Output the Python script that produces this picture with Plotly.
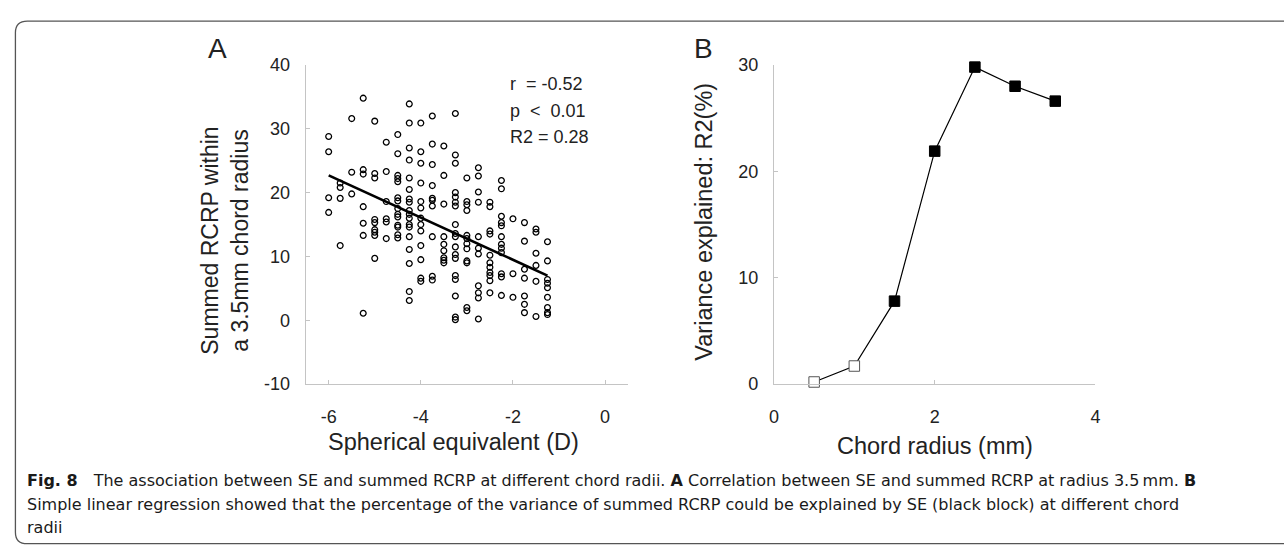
import plotly.graph_objects as go

W, H = 1284, 559

# ---------------- Data ----------------
# Panel A: spherical equivalent levels (D) and summed RCRP values at each level
se_levels = [-6.0, -5.75, -5.5, -5.25, -5.0, -4.75, -4.5, -4.25, -4.0, -3.75,
             -3.5, -3.25, -3.0, -2.75, -2.5, -2.25, -2.0, -1.75, -1.5, -1.25]
rcrp_by_level = [
    [28.8, 26.4, 19.2, 16.9],
    [21.5, 20.8, 19.1, 11.7],
    [31.6, 23.2, 19.8],
    [34.8, 23.6, 22.9, 17.8, 15.2, 13.3, 1.1],
    [31.2, 23.0, 22.3, 15.8, 15.3, 14.2, 13.8, 13.3, 9.7],
    [27.9, 23.3, 18.6, 15.9, 15.4, 12.8],
    [29.1, 26.1, 22.7, 22.2, 21.7, 19.2, 18.7, 17.5, 16.6, 16.2, 14.9, 14.6, 13.4, 12.9],
    [33.9, 30.9, 27.0, 25.1, 22.3, 20.5, 19.0, 18.5, 17.2, 16.6, 16.0, 15.0, 14.6, 13.1, 11.1, 8.9, 4.5, 3.1],
    [30.9, 26.4, 24.6, 21.5, 18.6, 17.6, 16.0, 15.0, 14.0, 11.7, 9.5, 6.6, 6.1],
    [32.0, 27.6, 24.4, 21.1, 19.1, 18.8, 17.9, 13.1, 6.9, 6.3],
    [27.3, 22.7, 18.2, 13.1, 11.9, 10.9, 9.8, 9.4, 9.0],
    [32.4, 25.9, 24.6, 20.0, 19.3, 18.5, 17.9, 15.0, 13.6, 13.1, 11.5, 10.3, 9.7, 7.0, 6.4, 3.8, 0.5, 0.1],
    [22.3, 18.6, 18.1, 17.2, 13.3, 12.8, 12.0, 11.2, 9.3, 9.0, 2.0, 1.5],
    [23.9, 22.6, 20.1, 18.5, 13.1, 11.3, 10.4, 5.4, 4.3, 3.5, 0.2],
    [18.5, 17.8, 14.0, 13.5, 10.2, 9.0, 8.3, 7.5, 7.0, 6.2, 4.3],
    [21.9, 20.6, 16.3, 15.3, 14.8, 13.1, 11.9, 11.3, 10.6, 7.3, 6.8, 3.9],
    [15.9, 7.3, 3.6],
    [15.3, 12.4, 8.0, 6.6, 3.8, 2.5, 1.2],
    [14.3, 13.8, 10.5, 8.6, 6.1, 0.6],
    [12.3, 9.3, 6.4, 5.8, 5.1, 3.6, 2.0, 1.2, 0.9],
]
fit_se = [-6.0, -1.25]
fit_rcrp = [22.7, 7.0]
stats_lines = ["r  = -0.52", "p  <  0.01", "R2 = 0.28"]

x_ticks_a = [-6, -4, -2, 0]
x_ticklabels_a = ["-6", "-4", "-2", "0"]
y_ticks_a = [-10, 0, 10, 20, 30, 40]
y_ticklabels_a = ["-10", "0", "10", "20", "30", "40"]

# Panel B: chord radius vs variance explained
chord_radius = [0.5, 1.0, 1.5, 2.0, 2.5, 3.0, 3.5]
variance_explained = [0.2, 1.7, 7.8, 21.9, 29.8, 28.0, 26.6]
significant = [False, False, True, True, True, True, True]

x_ticks_b = [0, 2, 4]
y_ticks_b = [0, 10, 20, 30]

# ---------------- Helpers ----------------
def px(x):
    return x / W

def py(y):
    return 1 - y / H

se_x = []
rcrp_y = []
for lvl, vals in zip(se_levels, rcrp_by_level):
    for v in vals:
        se_x.append(lvl)
        rcrp_y.append(v)

FONT = "Liberation Sans, Arial, Helvetica, sans-serif"
AXIS_GRAY = "#c4c4c4"
TXT = "#222222"

fig = go.Figure()

# Panel A scatter
fig.add_trace(go.Scatter(
    x=se_x, y=rcrp_y, mode="markers", xaxis="x", yaxis="y",
    marker=dict(symbol="circle-open", size=5.8, color="black", line=dict(width=1.3)),
    showlegend=False, hoverinfo="skip"))
fig.add_trace(go.Scatter(
    x=fit_se, y=fit_rcrp, mode="lines", xaxis="x", yaxis="y",
    line=dict(color="black", width=2.6), showlegend=False, hoverinfo="skip"))

# Panel B line + squares
fig.add_trace(go.Scatter(
    x=chord_radius, y=variance_explained, mode="lines+markers", xaxis="x2", yaxis="y2",
    line=dict(color="black", width=1.2),
    marker=dict(symbol="square", size=10.5,
                color=["black" if s else "white" for s in significant],
                line=dict(color=["black" if s else "#555555" for s in significant], width=1)),
    showlegend=False, hoverinfo="skip", cliponaxis=False))

ydom = [py(388), py(57)]
axis_common = dict(
    showgrid=False, zeroline=False, showline=True, linecolor=AXIS_GRAY, linewidth=1,
    ticks="inside", ticklen=4, tickcolor=AXIS_GRAY, tickwidth=1,
    tickfont=dict(family=FONT, size=18, color=TXT),
)

fig.update_layout(
    width=W, height=H, margin=dict(l=0, r=0, t=0, b=0),
    paper_bgcolor="white", plot_bgcolor="white",
    xaxis=dict(domain=[px(303), px(628)], range=[-6.5, 0.5], tickvals=x_ticks_a,
               ticktext=x_ticklabels_a, anchor="y", ticklabelstandoff=16, **axis_common),
    yaxis=dict(domain=ydom, range=[-10, 40], tickvals=y_ticks_a, ticktext=y_ticklabels_a,
               anchor="x", ticklabelstandoff=11, **axis_common),
    xaxis2=dict(domain=[px(775), px(1099)], range=[0, 4], tickvals=x_ticks_b,
                anchor="y2", ticklabelstandoff=16, **axis_common),
    yaxis2=dict(domain=ydom, range=[0, 30], tickvals=y_ticks_b,
                anchor="x2", ticklabelstandoff=11, **axis_common),
)

ann = []

def add_text(x, y, text, size, xanchor="center", yanchor="middle", angle=0, family=FONT, color=TXT):
    ann.append(dict(x=px(x), y=py(y), xref="paper", yref="paper", text=text, showarrow=False,
                    xanchor=xanchor, yanchor=yanchor, textangle=angle,
                    font=dict(family=family, size=size, color=color)))

# Panel letters
add_text(214, 40, "A", 28)
add_text(704, 40, "B", 28)

# Stats text
for i, line in enumerate(stats_lines):
    add_text(507, 77 + i * 27.5, line, 18, xanchor="left")

# Axis titles
add_text(222, 239, "Summed RCRP within<br>a 3.5mm chord radius", 23, angle=-90)
add_text(705, 220, "Variance explained: R2(%)", 23.5, angle=-90)
add_text(452, 448, "Spherical equivalent (D)", 23.5)
add_text(937, 452, "Chord radius (mm)", 23.5)

# Caption
CAP = "DejaVu Sans, Noto Sans, sans-serif"
CAPS = 16
add_text(20, 488, "<b>Fig. 8</b>\u2003The association between SE and summed RCRP at different chord radii. "
         "<b>A</b> Correlation between SE and summed RCRP at radius 3.5\u2009mm. <b>B</b>",
         CAPS, xanchor="left", family=CAP, color="#1a1a1a")
add_text(20, 513, "Simple linear regression showed that the percentage of the variance of summed RCRP "
         "could be explained by SE (black block) at different chord",
         CAPS, xanchor="left", family=CAP, color="#1a1a1a")
add_text(20, 537, "radii", CAPS, xanchor="left", family=CAP, color="#1a1a1a")

fig.update_layout(annotations=ann)

# Rounded frame (right side runs off the page)
l, t, b, r = 10.5, 11.5, 553.5, 1300
rad = 12
path = (f"M {px(r)},{py(t)} L {px(l + rad)},{py(t)} "
        f"Q {px(l)},{py(t)} {px(l)},{py(t + rad)} "
        f"L {px(l)},{py(b - rad)} "
        f"Q {px(l)},{py(b)} {px(l + rad)},{py(b)} "
        f"L {px(r)},{py(b)}")
fig.update_layout(shapes=[dict(type="path", path=path, xref="paper", yref="paper",
                               line=dict(color="#555555", width=1.3))])

fig.write_html("out.html")
